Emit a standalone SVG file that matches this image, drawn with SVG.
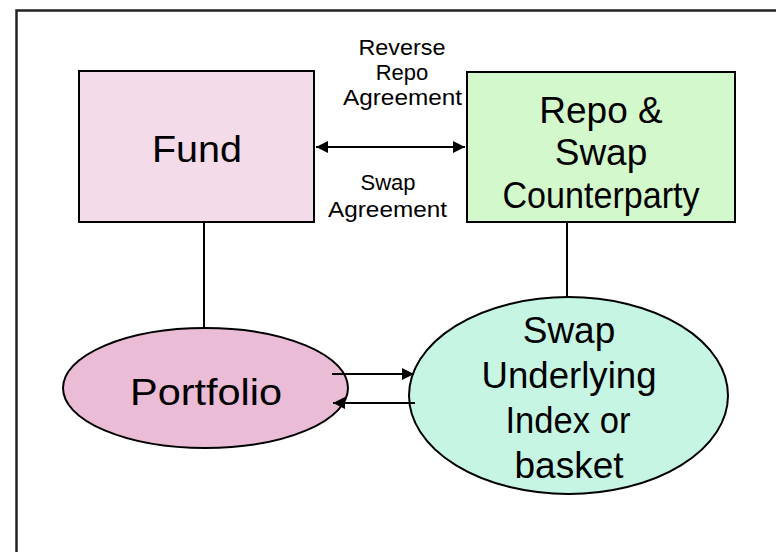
<svg xmlns="http://www.w3.org/2000/svg" width="776" height="552" viewBox="0 0 776 552">
  <style>
    .shape { stroke: #000; stroke-width: 2; }
    .lbl { font-family: "Liberation Sans", Arial, sans-serif; fill: #000; text-anchor: middle; }
    .big { font-size: 37px; }
    .small { font-size: 22px; }
    .wire { stroke: #000; stroke-width: 2; fill: none; }
  </style>
  <defs>
    <marker id="headBig" viewBox="0 0 10 10" refX="10" refY="5" markerWidth="12" markerHeight="12" markerUnits="userSpaceOnUse" orient="auto-start-reverse">
      <path d="M0,0 L10,5 L0,10 z" fill="#000"/>
    </marker>
  </defs>

  <rect width="776" height="552" fill="#fff"/>
  <!-- page frame -->
  <rect x="16.5" y="10.5" width="820" height="620" fill="none" stroke="#222" stroke-width="2.5"/>

  <g id="edge-labels">
    <text class="lbl small" x="402" y="55" textLength="87" lengthAdjust="spacingAndGlyphs">Reverse</text>
    <text class="lbl small" x="402" y="80">Repo</text>
    <text class="lbl small" x="402.5" y="105" textLength="119" lengthAdjust="spacingAndGlyphs">Agreement</text>
    <text class="lbl small" x="388" y="190">Swap</text>
    <text class="lbl small" x="387.5" y="217" textLength="119" lengthAdjust="spacingAndGlyphs">Agreement</text>
  </g>

  <g id="fund">
    <rect class="shape" x="79" y="71" width="235" height="151" fill="#f3dbea"/>
    <text class="lbl big" x="197" y="162" textLength="90" lengthAdjust="spacingAndGlyphs">Fund</text>
  </g>

  <g id="counterparty">
    <rect class="shape" x="467" y="72" width="268" height="150" fill="#d3f8cc"/>
    <text class="lbl big" x="601" y="123">Repo &amp;</text>
    <text class="lbl big" x="601" y="165">Swap</text>
    <text class="lbl big" x="601" y="208" textLength="197" lengthAdjust="spacingAndGlyphs">Counterparty</text>
  </g>

  <g id="portfolio">
    <ellipse class="shape" cx="205.5" cy="388" rx="142.5" ry="60" fill="#ebbcd6"/>
    <text class="lbl big" x="206" y="405" textLength="152" lengthAdjust="spacingAndGlyphs">Portfolio</text>
  </g>

  <g id="underlying">
    <ellipse class="shape" cx="568.5" cy="395.5" rx="159.5" ry="98.5" fill="#c6f6e3"/>
    <text class="lbl big" x="569" y="343">Swap</text>
    <text class="lbl big" x="569" y="388" textLength="175" lengthAdjust="spacingAndGlyphs">Underlying</text>
    <text class="lbl big" x="568" y="433" textLength="125" lengthAdjust="spacingAndGlyphs">Index or</text>
    <text class="lbl big" x="569" y="478">basket</text>
  </g>

  <!-- connectors drawn last so the flow arrows sit over the ellipse edges -->
  <g id="connectors">
    <line class="wire" x1="316" y1="147" x2="465" y2="147" marker-start="url(#headBig)" marker-end="url(#headBig)"/>
    <line class="wire" x1="204" y1="223" x2="204" y2="327"/>
    <line class="wire" x1="567" y1="223" x2="567" y2="296"/>
    <line class="wire" x1="332" y1="374" x2="414" y2="374" marker-end="url(#headBig)"/>
    <line class="wire" x1="415" y1="403" x2="333" y2="403" marker-end="url(#headBig)"/>
  </g>
</svg>
